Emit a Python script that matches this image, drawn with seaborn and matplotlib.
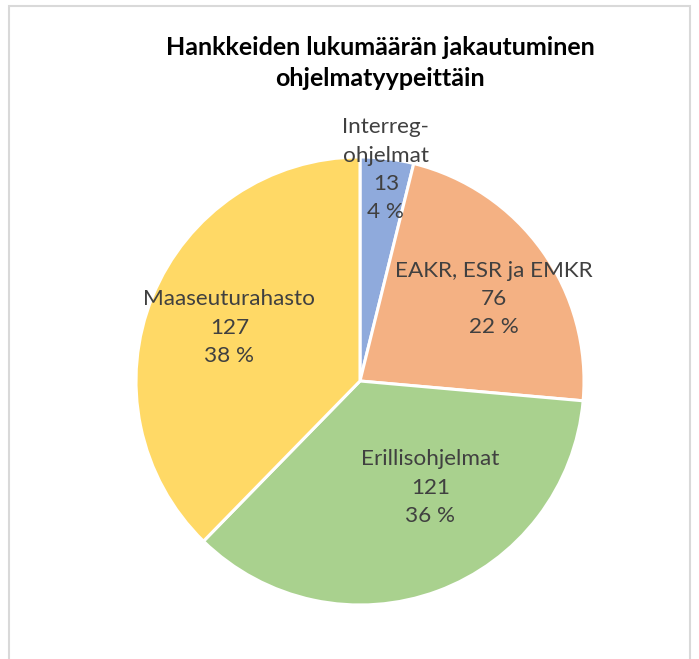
import numpy as np
import matplotlib
matplotlib.use("Agg")
import matplotlib.pyplot as plt
import seaborn as sns
from matplotlib.patches import Rectangle

sns.set_theme(style="white")
plt.rcParams['font.family'] = ['Lato', 'DejaVu Sans']

categories = ['Interreg-\nohjelmat', 'EAKR, ESR ja EMKR', 'Erillisohjelmat', 'Maaseuturahasto']
counts = [13, 76, 121, 127]
pct_labels = [4, 22, 36, 38]
colors = ['#8FAADC', '#F4B183', '#A9D18E', '#FFD966']
# label placement (fraction of radius, angle in degrees) as Excel put them
label_r = [0.95, 0.70, 0.57, 0.63]
label_ang = [83.0, 31.5, -56.6, 157.8]

W, H = 699, 659
fig = plt.figure(figsize=(W / 100, H / 100), dpi=100)

# chart frame
fig.patches.append(Rectangle((9 / W, -0.05), 681 / W, 1.05 - 6 / H, transform=fig.transFigure,
                             fill=False, edgecolor='#D9D9D9', linewidth=1.5))

cx, cy, rad = 360, 381, 224
ax = fig.add_axes([(cx - rad) / W, 1 - (cy + rad) / H, 2 * rad / W, 2 * rad / H])
wedges, _ = ax.pie(counts, colors=colors, startangle=90, counterclock=False,
                   wedgeprops=dict(edgecolor='white', linewidth=2.2), radius=1)
ax.set_xlim(-1, 1)
ax.set_ylim(-1, 1)
ax.set_aspect('auto')
ax.axis('off')

for name, n, p, r, a in zip(categories, counts, pct_labels, label_r, label_ang):
    t = np.deg2rad(a)
    ax.text(r * np.cos(t), r * np.sin(t), f"{name}\n{n}\n{p} %",
            ha='center', va='center', fontsize=16.2, color='#404040',
            linespacing=1.52, clip_on=False)

fig.text(380 / W, 1 - 63 / H, "Hankkeiden lukumäärän jakautuminen\nohjelmatyypeittäin",
         ha='center', va='center', fontsize=18, fontweight='bold', color='black',
         linespacing=1.4)

fig.savefig("out.png", dpi=100)
